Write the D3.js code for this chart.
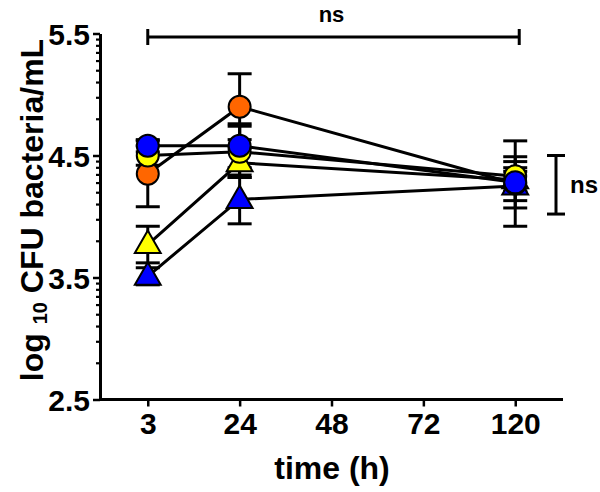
<!DOCTYPE html>
<html>
<head>
<meta charset="utf-8">
<script src="https://cdn.jsdelivr.net/npm/d3@7/dist/d3.min.js"></script>
<style>
  html, body { margin: 0; padding: 0; background: #fff; }
  svg { display: block; }
  text { font-family: "Liberation Sans", Arial, Helvetica, sans-serif; font-weight: bold; fill: #000; }
</style>
</head>
<body>
<svg id="chart" width="600" height="492"></svg>
<script>
// ---- data ----
const timeCategories = ["3", "24", "48", "72", "120"];
const sampleTimes = ["3", "24", "120"];

const orangeCircleMean = [4.35, 4.90, 4.27];
const orangeCircleErr  = [0.27, 0.27, 0.35];
const yellowCircleMean = [4.50, 4.53, 4.33];
const yellowCircleErr  = [0.08, 0.21, 0.12];
const blueCircleMean   = [4.58, 4.58, 4.28];
const blueCircleErr    = [0.05, 0.18, 0.21];
const yellowTriMean    = [3.77, 4.44, 4.30];
const yellowTriErr     = [0.15, 0.12, 0.10];
const blueTriMean      = [3.51, 4.14, 4.25];
const blueTriErr       = [0.07, 0.20, 0.12];

const yMajorTicks = [2.5, 3.5, 4.5, 5.5];
const yTickLabels = ["2.5", "3.5", "4.5", "5.5"];
const topBracket = { from: "3", to: "120", label: "ns" };
const sideBracket = { from: 4.5, to: 4.02, label: "ns" };

// draw order: bottom first
const series = [
  { name: "blueTri",      mean: blueTriMean,      err: blueTriErr,      shape: "triangle", color: "#0000ff" },
  { name: "yellowTri",    mean: yellowTriMean,    err: yellowTriErr,    shape: "triangle", color: "#ffff00" },
  { name: "orangeCircle", mean: orangeCircleMean, err: orangeCircleErr, shape: "circle",   color: "#ff6600" },
  { name: "yellowCircle", mean: yellowCircleMean, err: yellowCircleErr, shape: "circle",   color: "#ffff00" },
  { name: "blueCircle",   mean: blueCircleMean,   err: blueCircleErr,   shape: "circle",   color: "#0000ff" }
];

// ---- layout ----
const svg = d3.select("#chart");
const x = d3.scalePoint().domain(timeCategories).range([100, 563]).padding(0.52);
const y = d3.scaleLinear().domain([2.5, 5.5]).range([399.5, 33.5]);

// minor log ticks within each unit
const yMinorTicks = [];
yMajorTicks.slice(0, -1).forEach(m => { for (let k = 2; k <= 9; k++) yMinorTicks.push(m + Math.log10(k)); });

// y axis minor
const gyMinor = svg.append("g").attr("transform", "translate(100,0)")
  .call(d3.axisLeft(y).tickValues(yMinorTicks).tickSize(4).tickFormat(""));
gyMinor.select(".domain").remove();
gyMinor.selectAll(".tick line").attr("stroke", "#000").attr("stroke-width", 2.2);

// y axis major
const gy = svg.append("g").attr("transform", "translate(100,0)")
  .call(d3.axisLeft(y).tickValues(yMajorTicks).tickSize(7).tickSizeOuter(0).tickPadding(3)
    .tickFormat((d, i) => yTickLabels[i]));
gy.select(".domain").attr("stroke", "#000").attr("stroke-width", 3);
gy.selectAll(".tick line").attr("stroke", "#000").attr("stroke-width", 2.5);
gy.selectAll(".tick text").style("font-size", "30px").attr("dy", "0.36em");

// x axis
const gx = svg.append("g").attr("transform", "translate(0,399.5)")
  .call(d3.axisBottom(x).tickSize(7).tickSizeOuter(0).tickPadding(6));
gx.select(".domain").attr("stroke", "#000").attr("stroke-width", 3).attr("d", "M100,0H563");
gx.selectAll(".tick line").attr("stroke", "#000").attr("stroke-width", 2.5);
gx.selectAll(".tick text").style("font-size", "30px").attr("dy", "0.72em");

// axis titles
svg.append("text").attr("x", 332).attr("y", 479).attr("text-anchor", "middle")
  .style("font-size", "32px").text("time (h)");

const yt = svg.append("text").attr("transform", "translate(43,210) rotate(-90)")
  .attr("text-anchor", "middle").style("font-size", "32px");
yt.append("tspan").text("log ");
yt.append("tspan").style("font-size", "20px").attr("dy", "4").text("10");
yt.append("tspan").attr("dy", "-4").text(" CFU bacteria/mL");

// ---- lines ----
const line = d3.line().x(d => x(d.t)).y(d => y(d.v));
series.forEach(s => {
  const pts = sampleTimes.map((t, i) => ({ t, v: s.mean[i] }));
  svg.append("path").datum(pts).attr("d", line)
    .attr("fill", "none").attr("stroke", "#000").attr("stroke-width", 3);
});

// ---- error bars ----
const capW = 12;
series.forEach(s => {
  sampleTimes.forEach((t, i) => {
    const cx = x(t), hi = y(s.mean[i] + s.err[i]), lo = y(s.mean[i] - s.err[i]);
    const g = svg.append("g").attr("stroke", "#000").attr("stroke-width", 3);
    g.append("line").attr("x1", cx).attr("x2", cx).attr("y1", hi).attr("y2", lo);
    g.append("line").attr("x1", cx - capW).attr("x2", cx + capW).attr("y1", hi).attr("y2", hi);
    g.append("line").attr("x1", cx - capW).attr("x2", cx + capW).attr("y1", lo).attr("y2", lo);
  });
});

// ---- markers ----
const circleSym = d3.symbol().type(d3.symbolCircle).size(Math.PI * 11 * 11);
const triSym = d3.symbol().type(d3.symbolTriangle).size(290);
series.forEach(s => {
  sampleTimes.forEach((t, i) => {
    svg.append("path")
      .attr("d", s.shape === "circle" ? circleSym() : triSym())
      .attr("transform", `translate(${x(t)},${y(s.mean[i]) + (s.shape === "triangle" ? 1 : 0)})`)
      .attr("fill", s.color).attr("stroke", "#000").attr("stroke-width", 2);
  });
});

// ---- significance brackets ----
const by = 37;
const tb = svg.append("g").attr("stroke", "#000").attr("stroke-width", 3);
tb.append("line").attr("x1", x(topBracket.from)).attr("x2", x(topBracket.to) + 4).attr("y1", by).attr("y2", by);
tb.append("line").attr("x1", x(topBracket.from)).attr("x2", x(topBracket.from)).attr("y1", by - 8).attr("y2", by + 8);
tb.append("line").attr("x1", x(topBracket.to) + 4).attr("x2", x(topBracket.to) + 4).attr("y1", by - 8).attr("y2", by + 8);
svg.append("text").attr("x", (x(topBracket.from) + x(topBracket.to)) / 2).attr("y", 22)
  .attr("text-anchor", "middle").style("font-size", "22px").text(topBracket.label);

const sx = 556;
const sb = svg.append("g").attr("stroke", "#000").attr("stroke-width", 3);
sb.append("line").attr("x1", sx).attr("x2", sx).attr("y1", y(sideBracket.from)).attr("y2", y(sideBracket.to));
sb.append("line").attr("x1", sx - 9).attr("x2", sx + 9).attr("y1", y(sideBracket.from)).attr("y2", y(sideBracket.from));
sb.append("line").attr("x1", sx - 9).attr("x2", sx + 9).attr("y1", y(sideBracket.to)).attr("y2", y(sideBracket.to));
svg.append("text").attr("x", 570).attr("y", (y(sideBracket.from) + y(sideBracket.to)) / 2 + 8)
  .style("font-size", "24px").text(sideBracket.label);
</script>
</body>
</html>
